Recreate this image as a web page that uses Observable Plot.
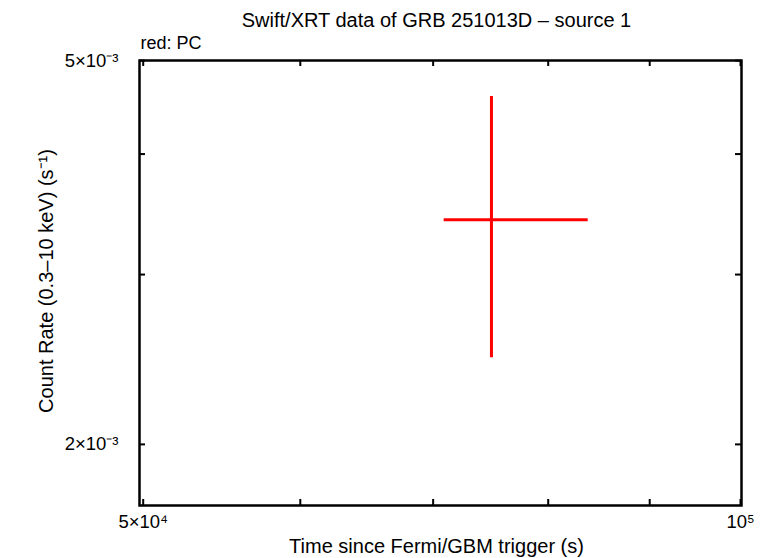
<!DOCTYPE html>
<html>
<head>
<meta charset="utf-8">
<script src="https://cdn.jsdelivr.net/npm/d3@7"></script>
<script src="https://cdn.jsdelivr.net/npm/@observablehq/plot@0.6"></script>
<style>
  html, body { margin: 0; padding: 0; background: #fff; }
  #chart svg { display: block; }
</style>
</head>
<body>
<div id="chart"></div>
<script>
// ---- data ----
const titleText = "Swift/XRT data of GRB 251013D \u2013 source 1";
const legendText = "red: PC";
const xLabel = "Time since Fermi/GBM trigger (s)";
const yLabel = "Count Rate (0.3\u201310 keV) (s\u207B\u00B9)";

const time = [74900];
const timeLo = [70900];
const timeHi = [83800];
const rate = [3.42e-3];
const rateLo = [2.46e-3];
const rateHi = [4.59e-3];

const xTicks = [5e4, 6e4, 7e4, 8e4, 9e4, 1e5];
const xTickLabelValues = [5e4, 1e5];
const xTickLabels = ["5\u00D710\u2074", "10\u2075"];
const yTicks = [2e-3, 3e-3, 4e-3, 5e-3];
const yTickLabelValues = [2e-3, 5e-3];
const yTickLabels = ["2\u00D710\u207B\u00B3", "5\u00D710\u207B\u00B3"];

const xDomain = [49786, 100116];
const yDomain = [1.7285e-3, 5.0012e-3];

// ---- tables ----
const points = time.map((t, i) => ({t, tlo: timeLo[i], thi: timeHi[i], r: rate[i], rlo: rateLo[i], rhi: rateHi[i]}));
const xLab = xTickLabelValues.map((v, i) => ({v, s: xTickLabels[i]}));
const yLab = yTickLabelValues.map((v, i) => ({v, s: yTickLabels[i]}));

const W = 769, H = 558;
const mL = 139, mR = 28, mT = 60, mB = 53;
const fw = W - mL - mR, fh = H - mT - mB;
const tk = 6;
const font = "'Liberation Sans', Arial, sans-serif";

const chart = Plot.plot({
  width: W,
  height: H,
  marginLeft: mL,
  marginRight: mR,
  marginTop: mT,
  marginBottom: mB,
  style: {fontFamily: font, background: "#fff", color: "#000"},
  x: {type: "log", domain: xDomain, axis: null},
  y: {type: "log", domain: yDomain, axis: null},
  marks: [
    // ticks (inward, mirrored)
    Plot.tickX(xTicks, {x: d => d, insetTop: fh - tk, stroke: "#000", strokeWidth: 2}),
    Plot.tickX(xTicks, {x: d => d, insetBottom: fh - tk, stroke: "#000", strokeWidth: 2}),
    Plot.tickY(yTicks, {y: d => d, insetRight: fw - tk, stroke: "#000", strokeWidth: 2}),
    Plot.tickY(yTicks, {y: d => d, insetLeft: fw - tk, stroke: "#000", strokeWidth: 2}),
    Plot.frame({stroke: "#000", strokeWidth: 2.5}),
    // error bars
    Plot.ruleY(points, {y: "r", x1: "tlo", x2: "thi", stroke: "#ff0000", strokeWidth: 3}),
    Plot.ruleX(points, {x: "t", y1: "rlo", y2: "rhi", stroke: "#ff0000", strokeWidth: 3}),
    // tick labels
    Plot.text(xLab, {x: "v", text: "s", frameAnchor: "bottom", lineAnchor: "middle", dy: 17, fontSize: 18.5, fill: "#000"}),
    Plot.text(yLab, {y: "v", text: "s", frameAnchor: "left", textAnchor: "end", lineAnchor: "middle", dx: -21, fontSize: 18.5, fill: "#000"}),
    // titles
    Plot.text([titleText], {frameAnchor: "top", lineAnchor: "middle", dy: -40, dx: -4, fontSize: 20, fill: "#000"}),
    Plot.text([legendText], {frameAnchor: "top-left", textAnchor: "start", lineAnchor: "middle", dy: -17, dx: 1, fontSize: 18, fill: "#000"}),
    Plot.text([xLabel], {frameAnchor: "bottom", lineAnchor: "middle", dy: 41, dx: -4, fontSize: 20, fill: "#000"}),
    Plot.text([yLabel], {frameAnchor: "left", textAnchor: "middle", lineAnchor: "middle", rotate: -90, dx: -93, dy: -2, fontSize: 20, fill: "#000"})
  ]
});
document.getElementById("chart").appendChild(chart);
</script>
</body>
</html>
